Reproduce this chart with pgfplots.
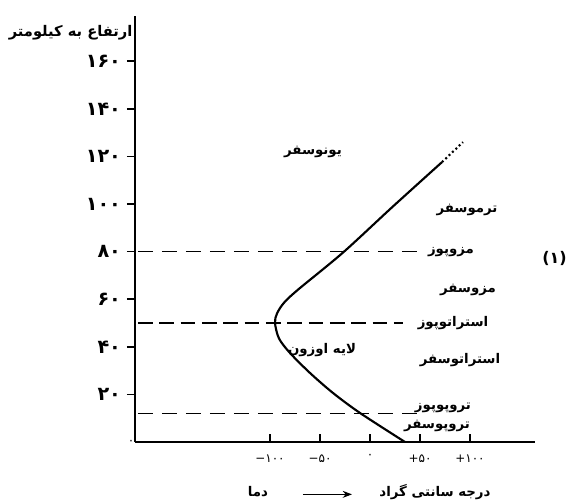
\documentclass[border=0pt]{standalone}
\usepackage{fontspec}
\usepackage{pgfplots}
\pgfplotsset{compat=1.18}
\usetikzlibrary{arrows.meta}
\TeXXeTstate=1
\newfontfamily\fa[Script=Arabic]{DejaVu Sans}
\newfontfamily\fadig{DejaVu Sans}

\begin{document}
\begin{tikzpicture}
\useasboundingbox (-101.25pt,-45.75pt) rectangle (325.5pt,331.5pt);
\begin{axis}[
    scale only axis, width=300pt, height=319.5pt,
    xmin=-235, xmax=165, ymin=0, ymax=179,
    axis x line=bottom, axis y line=left,
    axis line style={-, line width=1.4pt},
    clip=false,
    tick align=outside, major tick length=6pt,
    tick style={black, line width=1.2pt},
    xtick={-100,-50,0,50,100},
    xticklabels={−۱۰۰,−۵۰,۰,+۵۰,+۱۰۰},
    xtick style={yshift=6pt},
    xticklabel style={font=\fadig\small},
    ytick={20,40,...,160},
    yticklabels={۲۰,۴۰,۶۰,۸۰,۱۰۰,۱۲۰,۱۴۰,۱۶۰},
    yticklabel style={font=\fadig\bfseries\Large, xshift=-1pt},
    extra y ticks={0},
    extra y tick labels={۰},
    extra y tick style={major tick length=0pt,
        yticklabel style={font=\fadig\small, xshift=4pt}},
]
% layer boundaries
\addplot[black, line width=0.8pt, dash pattern=on 11pt off 7pt] coordinates {(-232,12) (52,12)};
\addplot[black, line width=2pt, dash pattern=on 11pt off 5pt] coordinates {(-232,50) (33,50)};
\addplot[black, line width=0.8pt, dash pattern=on 11pt off 7pt] coordinates {(-232,80) (52,80)};

% temperature profile
\addplot[black, line width=1.6pt, smooth, tension=0.5] coordinates {
    (35,0) (-10,12.2) (-37,20.6) (-60,29) (-80,37.4) (-91,43.5)
    (-95,50) (-93,54) (-86,58.5) (-72,64) (-27,79.6) (22,98.6) (72,117.6)
};
\addplot[black, line width=1.6pt, dash pattern=on 1.5pt off 2pt] coordinates {(72,117.6) (93,126)};

% layer names
\begin{scope}[every node/.style={font=\fa\bfseries, inner sep=1pt}]
\node at (axis cs:-57,122) {\beginR یونوسفر\endR};
\node at (axis cs:97,97.5) {\beginR ترموسفر\endR};
\node at (axis cs:81,80) {\beginR مزوپوز\endR};
\node at (axis cs:98,64) {\beginR مزوسفر\endR};
\node at (axis cs:83,50) {\beginR استراتوپوز\endR};
\node at (axis cs:-48,38.7) {\beginR لایه اوزون\endR};
\node at (axis cs:90,34.5) {\beginR استراتوسفر\endR};
\node at (axis cs:73,14.3) {\beginR تروپوپوز\endR};
\node at (axis cs:67,6.7) {\beginR تروپوسفر\endR};
\node[anchor=east, font=\fa\bfseries\fontsize{11}{13}\selectfont] at (axis cs:-236,172) {\beginR ارتفاع به کیلومتر\endR};
\node at (axis cs:-112,-21) {\beginR دما\endR};
\node at (axis cs:65,-21) {\beginR درجه سانتی گراد\endR};
\end{scope}
\node[anchor=east, font=\fadig\bfseries\large, inner sep=0pt] at (axis cs:197,77) {(۱)};
\draw[-{Stealth[length=7pt]}, line width=0.8pt] (axis cs:-67,-22) -- (axis cs:-18,-22);
\end{axis}
\end{tikzpicture}
\end{document}
